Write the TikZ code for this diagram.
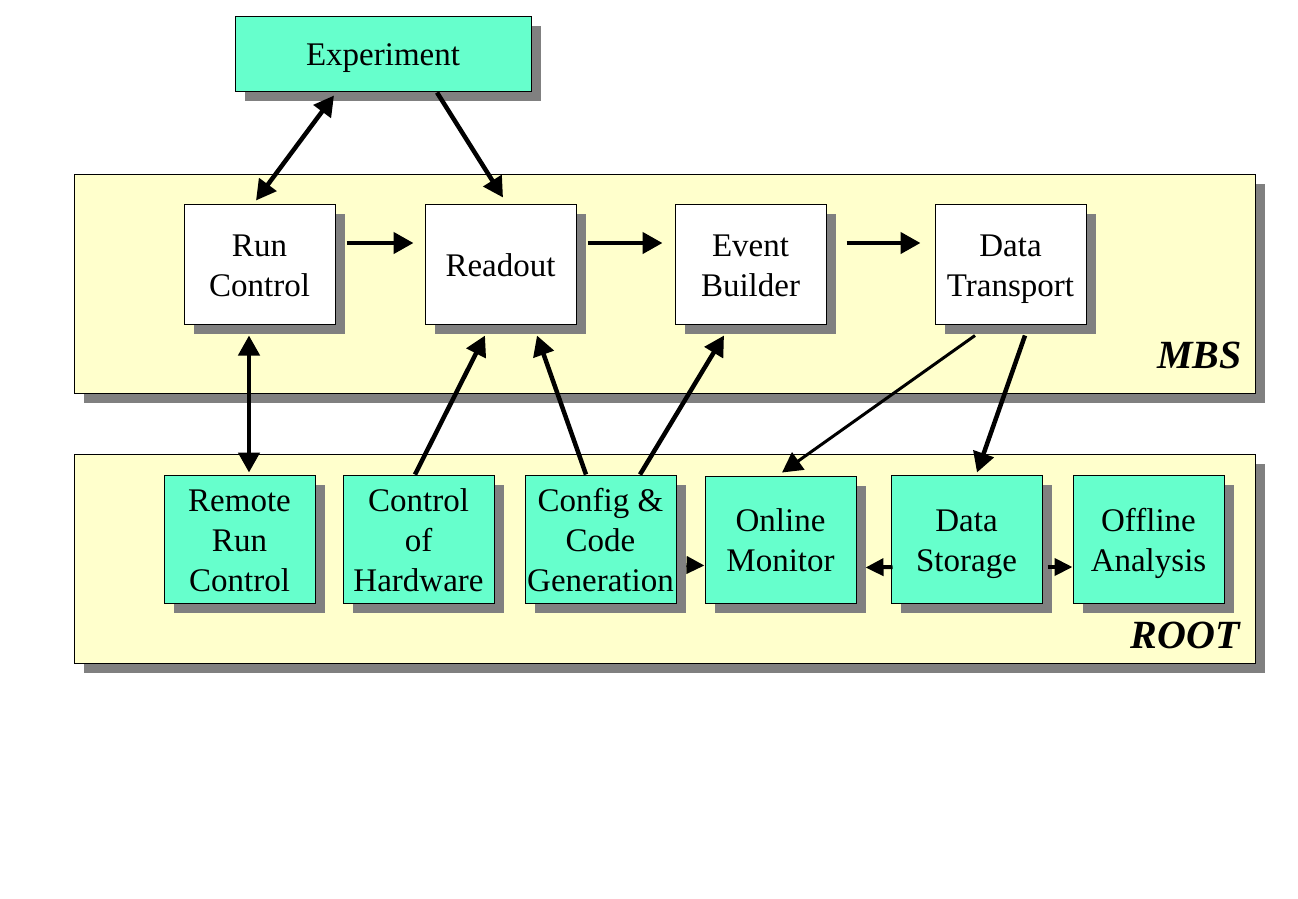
\documentclass[tikz,border=0pt]{standalone}
\usepackage{fontspec}
\setmainfont{Liberation Serif}
\usetikzlibrary{arrows.meta,shadows,calc}
\definecolor{boxcyan}{HTML}{66FFCC}
\definecolor{panelyellow}{HTML}{FFFFCC}
\definecolor{shadowgray}{HTML}{808080}
\newcommand{\ls}{\rule[-8pt]{0pt}{40pt}}
\begin{document}
\begin{tikzpicture}[x=1pt,y=-1pt,
  shad/.style={drop shadow={shadow xshift=10pt,shadow yshift=-10pt,fill=shadowgray,opacity=1}},
  panel/.style={draw=black,line width=1pt,fill=panelyellow,shad,minimum width=1181pt,inner sep=0pt},
  box/.style={draw=black,line width=1pt,shad,minimum width=151pt,minimum height=120pt,inner sep=0pt,align=center,font=\fontsize{33}{40}\selectfont},
  wbox/.style={box,fill=white},
  cbox/.style={box,fill=boxcyan,minimum height=128pt},
  arr/.style={line width=4.5pt,-{Triangle[length=20pt,width=21pt]}},
  darr/.style={line width=4.5pt,{Triangle[length=20pt,width=21pt]}-{Triangle[length=20pt,width=21pt]}},
  sarr/.style={line width=4pt,-{Triangle[length=18pt,width=17pt]}},
  plabel/.style={font=\fontsize{40}{44}\selectfont\bfseries\itshape,anchor=east,inner sep=0pt}
]
\useasboundingbox (0,0) rectangle (1298,898);
% panels
\node[panel,minimum height=219pt] (mbs) at (664.5,283.5) {};
\node[panel,minimum height=209pt] (root) at (664.5,558.5) {};
\node[plabel] (mbsl) at (1242,355) {MBS};
\node[plabel] (rootl) at (1240,635) {ROOT};
% top
\node[box,fill=boxcyan,minimum width=296pt,minimum height=75pt] (exp) at (383,53.5) {\ls Experiment};
% MBS boxes
\node[wbox] (rc) at (259.5,264) {\ls Run\\\ls Control};
\node[wbox] (ro) at (500.5,264) {\ls Readout};
\node[wbox] (eb) at (750.5,264) {\ls Event\\\ls Builder};
\node[wbox] (dt) at (1010.5,264) {\ls Data\\\ls Transport};
% ROOT boxes
\node[cbox] (rrc) at (239.5,539) {\ls Remote\\\ls Run\\\ls Control};
\node[cbox] (coh) at (418.5,539) {\ls Control\\\ls of\\\ls Hardware};
\node[cbox] (cfg) at (600.5,539) {\ls Config \&\\\ls Code\\\ls Generation};
\node[cbox,minimum height=127pt] (om) at (780.5,539.5) {\ls Online\\\ls Monitor};
\node[cbox] (ds) at (966.5,539) {\ls Data\\\ls Storage};
\node[cbox] (oa) at (1148.5,539) {\ls Offline\\\ls Analysis};
% arrows
\draw[darr] ($(exp.south)+(-49,4)$) -- ($(rc.north)+(-3.5,-3)$);
\draw[arr] ($(exp.south)+(54,1)$) -- ($(ro.north)+(2.5,-6)$);
\draw[arr] ($(rc.east)+(11,-21)$) -- ($(ro.west)+(-11,-21)$);
\draw[arr] ($(ro.east)+(11,-21)$) -- ($(eb.west)+(-12,-21)$);
\draw[arr] ($(eb.east)+(20,-21)$) -- ($(dt.west)+(-14,-21)$);
\draw[darr] ($(rc.south)+(-10.5,11)$) -- ($(rrc.north)+(9.5,-2)$);
\draw[arr] ($(coh.north)+(-3.5,0)$) -- ($(ro.south)+(-15.5,11)$);
\draw[arr] ($(cfg.north)+(-14.5,0)$) -- ($(ro.south)+(36.5,11)$);
\draw[arr] ($(cfg.north)+(39.5,0)$) -- ($(eb.south)+(-26.5,11)$);
\draw[line width=3pt,-{Triangle[length=20pt,width=21pt]}] ($(dt.south)+(-35.5,11)$) -- ($(om.north)+(1.5,-3)$);
\draw[arr] ($(dt.south)+(14.5,11)$) -- ($(ds.north)+(10.5,-2)$);
\draw[sarr] ($(cfg.east)+(10,26)$) -- ($(om.west)+(0,26)$);
\draw[sarr] ($(ds.west)+(2,28)$) -- ($(om.east)+(9,28)$);
\draw[sarr] ($(ds.east)+(5,28)$) -- ($(oa.west)+(0,28)$);
\end{tikzpicture}
\end{document}
